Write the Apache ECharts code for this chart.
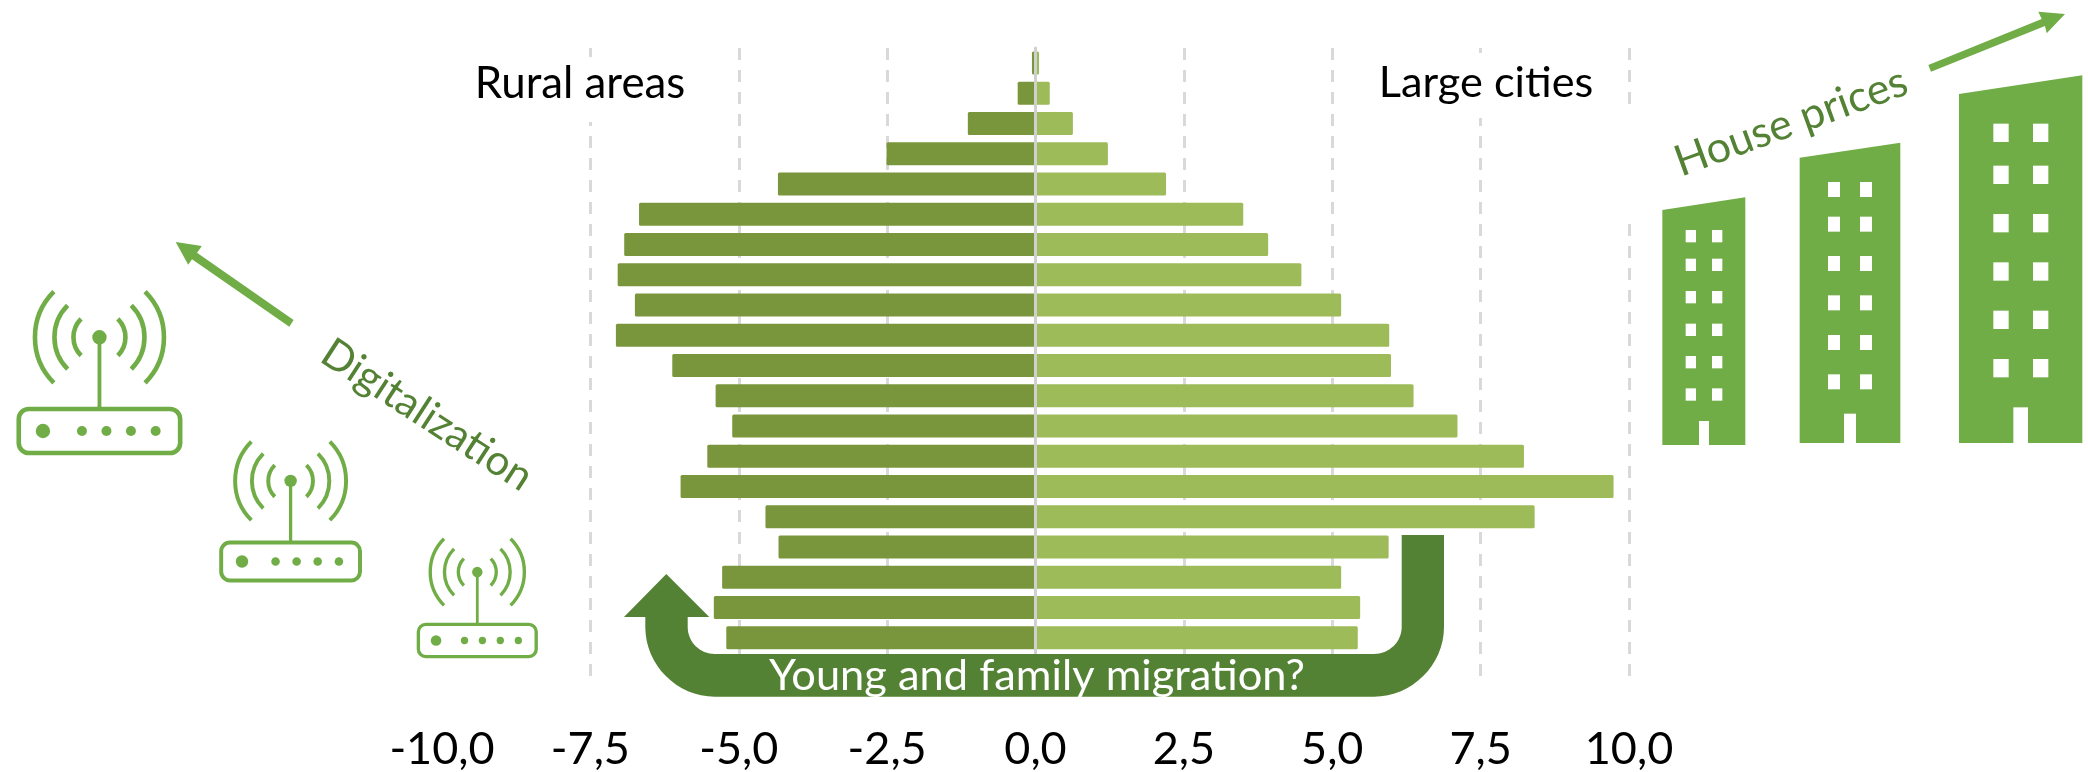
<!DOCTYPE html>
<html>
<head>
<meta charset="utf-8">
<style>html,body{margin:0;padding:0;background:#fff}#c{width:2088px;height:772px}</style>
<script src="https://cdn.jsdelivr.net/npm/echarts@6/dist/echarts.min.js"></script>
</head>
<body>
<div id="c"></div>
<script>
const ageGroups = ['100+','95-99','90-94','85-89','80-84','75-79','70-74','65-69','60-64','55-59','50-54','45-49','40-44','35-39','30-34','25-29','20-24','15-19','10-14','5-9','0-4'];
const ruralAreas = [-0.06,-0.30,-1.14,-2.51,-4.34,-6.68,-6.93,-7.04,-6.75,-7.07,-6.12,-5.39,-5.11,-5.53,-5.98,-4.55,-4.33,-5.28,-5.42,-5.21,null];
const largeCities = [0.06,0.24,0.63,1.22,2.20,3.50,3.92,4.48,5.15,5.96,5.99,6.37,7.11,8.23,9.74,8.41,5.95,5.15,5.47,5.43,null];

const BUILD = '#70ad47', DARK = '#548235', FONT = 'Lato, Carlito, sans-serif';

const uArrow = 'M1401.7 535 L1444 535 L1444 627 C1444 665 1412 696.7 1374 696.7 L715 696.7 C677 696.7 645.3 665 645.3 627 L645.3 617 L624 617 L666.3 574 L709.3 617 L687.7 617 L687.7 627 C687.7 642 700 654 715 654 L1374 654 C1389 654 1401.7 642 1401.7 627 Z';
echarts.graphic.registerShape('uArrow', echarts.graphic.extendPath(uArrow));

const gfx = [];
function whiteBox(x,y,w,h){ gfx.push({type:'rect',z:50,shape:{x,y,width:w,height:h},style:{fill:'#fff'}}); }
function poly(points,fill){ gfx.push({type:'polygon',z:100,shape:{points},style:{fill}}); }
function label(text,x,y,size,fill,rot,sx){
  gfx.push({type:'text',z:120,x,y,rotation:(rot||0)*Math.PI/180,scaleX:sx||1,
    style:{text,x:0,y:0,fill,font:size+'px '+FONT,textAlign:'center',textVerticalAlign:'middle',verticalAlign:'middle'}});
}
function router(cx,cy,s){
  const ax=cy-93.7*s; // antenna centre
  const common={fill:'none',stroke:BUILD};
  gfx.push({type:'rect',z:100,shape:{x:cx-80.7*s,y:cy-22*s,width:161.4*s,height:44*s,r:10*s},style:{...common,lineWidth:4.6*s}});
  gfx.push({type:'line',z:100,shape:{x1:cx,y1:ax,x2:cx,y2:cy-22*s},style:{stroke:BUILD,lineWidth:3.8*s}});
  gfx.push({type:'circle',z:100,shape:{cx,cy:ax,r:7.2*s},style:{fill:BUILD}});
  gfx.push({type:'circle',z:100,shape:{cx:cx-56.5*s,cy,r:7.2*s},style:{fill:BUILD}});
  [-17.5,7,31.5,56.2].forEach(d=>gfx.push({type:'circle',z:100,shape:{cx:cx+d*s,cy,r:5*s},style:{fill:BUILD}}));
  [26,45,64.5].forEach(r=>{
    gfx.push({type:'arc',z:100,shape:{cx,cy:ax,r:r*s,startAngle:Math.PI*0.75,endAngle:Math.PI*1.25,clockwise:true},style:{...common,lineWidth:4.6*s}});
    gfx.push({type:'arc',z:100,shape:{cx,cy:ax,r:r*s,startAngle:-Math.PI*0.25,endAngle:Math.PI*0.25,clockwise:true},style:{...common,lineWidth:4.6*s}});
  });
}
function building(outline,door,winX,winY,winW,winH){
  const m=p=>[1600+p[0]/3,p[1]/3];
  poly(outline.map(m),BUILD);
  gfx.push({type:'rect',z:110,shape:{x:1600+door[0]/3,y:door[1]/3,width:door[2]/3,height:door[3]/3},style:{fill:'#fff'}});
  winX.forEach(x=>winY.forEach(y=>gfx.push({type:'rect',z:110,shape:{x:1600+x/3,y:y/3,width:winW/3,height:winH/3},style:{fill:'#fff'}})));
}

whiteBox(470,57,230,65);
whiteBox(1345,53,255,65);
whiteBox(1620,105,20,119);

gfx.push({type:'uArrow',z:100,style:{fill:DARK}});
label('Rural areas',580,84,43.8,'#000');
label('Large cities',1486,83,43.3,'#000');
label('Young and family migration?',1037,676,43.4,'#fff');
label('House prices',1791,122,43,DARK,20);
label('Digitalization',427,415,42,DARK,-33);

poly([[175.7,242],[201.8,246],[197,252.7],[293.6,320],[289.3,326.7],[192,259.3],[188.2,264.7]],BUILD);
poly([[2065,14],[2046.7,33.3],[2045,26],[1931,71.7],[1928.3,65],[2041.7,19],[2038.3,11.7]],BUILD);

router(99.45,431,1);
router(290.6,561.5,0.86);
router(477.3,640.5,0.73);

building([[187,630],[436,592],[436,1335],[187,1335]],[297,1263,30,72],[257,336],[690,776,873,971,1068,1165],31,37);
building([[599,473],[901,428],[901,1329],[599,1329]],[732,1241,36,88],[684,780],[546,650,768,886,1005,1123],36,45);
building([[1077,282],[1447,226],[1447,1329],[1077,1329]],[1240,1222,44,107],[1180,1299],[371,497,642,787,932,1077],46,55);

const chart = echarts.init(document.getElementById('c'),null,{renderer:'canvas'});
chart.setOption({
  animation:false,
  backgroundColor:'#fff',
  grid:{left:442,right:459,top:48,bottom:88,containLabel:false},
  xAxis:{type:'value',min:-10,max:10,interval:2.5,
    axisLine:{show:false},axisTick:{show:false},
    axisLabel:{color:'#000',fontFamily:FONT,fontSize:45,margin:44,hideOverlap:false,
      formatter:v=>v.toFixed(1).replace('.',',')},
    splitLine:{show:true,showMinLine:false,lineStyle:{color:'#d9d9d9',width:3,type:[12,10]}}},
  yAxis:{type:'category',data:ageGroups,inverse:true,z:5,
    axisLine:{show:true,onZero:true,lineStyle:{color:'#d0d0d0',width:3}},
    axisTick:{show:false},axisLabel:{show:false},splitLine:{show:false}},
  series:[
    {name:'Rural areas',type:'bar',data:ruralAreas,barWidth:23,barGap:'-100%',z:2,itemStyle:{color:'#7a963c',borderRadius:1.5}},
    {name:'Large cities',type:'bar',data:largeCities,barWidth:23,barGap:'-100%',z:2,itemStyle:{color:'#9dbb59',borderRadius:1.5}}
  ],
  graphic:{elements:gfx}
});
</script>
</body>
</html>
